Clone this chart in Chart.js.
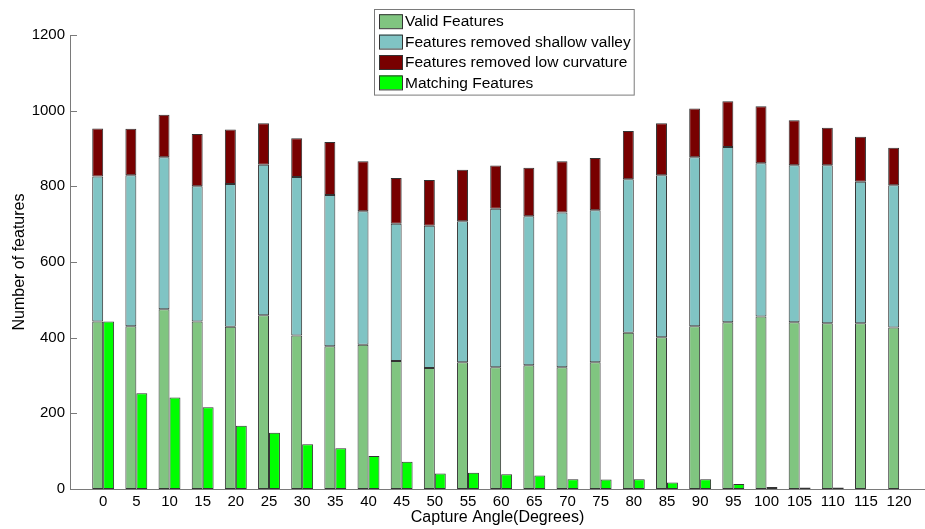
<!DOCTYPE html>
<html>
<head>
<meta charset="utf-8">
<script src="https://cdn.jsdelivr.net/npm/chart.js@4/dist/chart.umd.min.js"></script>
<style>
  html, body { margin: 0; padding: 0; background: #fff; }
  #wrap { width: 925px; height: 529px; }
</style>
</head>
<body>
<div id="wrap"><canvas id="grafico"></canvas></div>
<script>
// capture angles (degrees)
const angles = [0, 5, 10, 15, 20, 25, 30, 35, 40, 45, 50, 55, 60, 65, 70, 75, 80, 85, 90, 95, 100, 105, 110, 115, 120];

// feature counts per angle
const validFeatures   = [443, 430, 475, 443, 429, 459, 406, 377, 381, 338, 320, 335, 322, 327, 322, 335, 413, 401, 430, 441, 456, 441, 438, 438, 427];
const shallowValley   = [383, 399, 402, 357, 377, 398, 419, 400, 353, 363, 376, 373, 419, 394, 409, 402, 406, 428, 447, 463, 405, 415, 418, 374, 376];
const lowCurvature    = [127, 123, 112, 138, 144, 110, 102, 140, 132, 121, 121, 136, 114, 128, 135, 138, 127, 138, 129, 121, 151, 119,  99, 119,  99];
const matchingFeatures = [443, 253, 242, 216, 167, 149, 118, 108,  87,  72,  41,  43,  39,  36,  26,  25,  26,  17,  26,  13,   5,   4,   4,   0,   0];

const yTicks = [0, 200, 400, 600, 800, 1000, 1200];

const FONT = '"Liberation Sans", Arial, sans-serif';
const EDGE = '#333333';
const AXIS = '#7a7a7a';

// legend drawn as a boxed vertical list inside the plot
const boxLegend = {
  id: 'boxLegend',
  afterDraw(chart) {
    const ctx = chart.ctx;
    const items = chart.data.datasets;
    const left = 374, top = 9, rowH = 20.4;
    ctx.save();
    ctx.font = '15.5px ' + FONT;
    let maxW = 0;
    items.forEach(d => { maxW = Math.max(maxW, ctx.measureText(d.label).width); });
    const w = 31 + maxW + 3;
    const h = items.length * rowH + 4;
    ctx.fillStyle = '#fff';
    ctx.fillRect(left, top, w, h);
    ctx.strokeStyle = AXIS;
    ctx.lineWidth = 1;
    ctx.strokeRect(left + 0.5, top + 0.5, w, h);
    items.forEach((d, i) => {
      const cy = top + 2 + rowH * i + rowH / 2;
      ctx.fillStyle = d.backgroundColor;
      ctx.fillRect(left + 5, cy - 7, 23, 14);
      ctx.strokeStyle = EDGE;
      ctx.strokeRect(left + 5.5, cy - 6.5, 23, 14);
      ctx.fillStyle = '#000';
      ctx.textBaseline = 'middle';
      ctx.fillText(d.label, left + 31, cy + 1);
    });
    ctx.restore();
  }
};

// short inward tick marks on the value axis
const innerTicks = {
  id: 'innerTicks',
  afterDraw(chart) {
    const ctx = chart.ctx;
    const y = chart.scales.y;
    const x0 = chart.chartArea.left;
    ctx.save();
    ctx.strokeStyle = AXIS;
    ctx.lineWidth = 1;
    yTicks.forEach(v => {
      const py = Math.round(y.getPixelForValue(v)) + 0.5;
      ctx.beginPath();
      ctx.moveTo(x0, py);
      ctx.lineTo(x0 + 7, py);
      ctx.stroke();
    });
    ctx.restore();
  }
};

const barStyle = { borderColor: EDGE, borderWidth: 1, borderSkipped: false };

new Chart(document.getElementById('grafico'), {
  type: 'bar',
  data: {
    labels: angles,
    datasets: [
      Object.assign({ label: 'Valid Features', data: validFeatures, backgroundColor: '#80c580', stack: 'features' }, barStyle),
      Object.assign({ label: 'Features removed shallow valley', data: shallowValley, backgroundColor: '#80c4c4', stack: 'features' }, barStyle),
      Object.assign({ label: 'Features removed low curvature', data: lowCurvature, backgroundColor: '#780000', stack: 'features' }, barStyle),
      Object.assign({ label: 'Matching Features', data: matchingFeatures, backgroundColor: '#00ff00', stack: 'matching' }, barStyle)
    ]
  },
  options: {
    responsive: true,
    maintainAspectRatio: false,
    animation: false,
    categoryPercentage: 0.66,
    barPercentage: 1.0,
    layout: { padding: { top: 35, right: 0, left: 0, bottom: 0 } },
    plugins: {
      legend: { display: false },
      tooltip: { enabled: false }
    },
    scales: {
      x: {
        type: 'linear',
        offset: false,
        min: -5,
        max: 123.9,
        stacked: true,
        afterBuildTicks: axis => { axis.ticks = angles.map(v => ({ value: v })); },
        afterFit: axis => { axis.height = 40; },
        grid: { display: false, drawTicks: false },
        border: { color: AXIS },
        ticks: { color: '#000', font: { family: FONT, size: 15 }, padding: 4, maxRotation: 0, autoSkip: false },
        title: { display: true, text: 'Capture Angle(Degrees)', color: '#000', font: { family: FONT, size: 16 }, padding: { top: 0, bottom: 1.5 } }
      },
      y: {
        min: 0,
        max: 1200,
        stacked: true,
        afterBuildTicks: axis => { axis.ticks = yTicks.map(v => ({ value: v })); },
        afterFit: axis => { axis.width = 70; },
        grid: { display: false, drawTicks: false },
        border: { color: AXIS },
        ticks: { color: '#000', font: { family: FONT, size: 15 }, padding: 5, callback: v => String(v) },
        title: { display: true, text: 'Number of features', color: '#000', font: { family: FONT, size: 16 }, padding: { top: 10, bottom: 0 } }
      }
    }
  },
  plugins: [boxLegend, innerTicks]
});
</script>
</body>
</html>
